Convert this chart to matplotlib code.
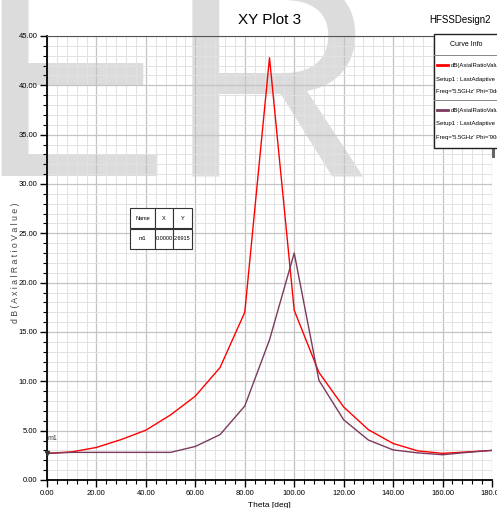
import matplotlib
matplotlib.use('Agg')
import matplotlib.pyplot as plt
from matplotlib.ticker import MultipleLocator, FormatStrFormatter
from matplotlib.patches import Rectangle
from matplotlib.lines import Line2D

# --- data ---
theta = [0, 10, 20, 30, 40, 50, 60, 70, 80, 90, 100, 110, 120, 130, 140, 150, 160, 170, 180]
ar_phi0 = [2.7, 2.85, 3.3, 4.1, 5.05, 6.6, 8.5, 11.4, 17.0, 42.8, 17.2, 10.9, 7.4, 5.1, 3.7, 2.95, 2.7, 2.85, 3.0]
ar_phi90 = [2.7, 2.8, 2.8, 2.8, 2.8, 2.8, 3.4, 4.6, 7.5, 14.2, 23.0, 10.1, 6.1, 4.05, 3.05, 2.75, 2.56, 2.8, 3.0]
marker_x, marker_y = 0.0, 2.6915

plt.rcParams['font.family'] = ['Liberation Sans', 'DejaVu Sans']

W, H = 497, 508
fig = plt.figure(figsize=(W / 100, H / 100), dpi=100)

# faint watermark behind everything
fig.text(-23 / W, 1 - 176 / H, 'ER', fontsize=207, color='#dcdcdc',
         ha='left', va='baseline', zorder=-5)

ax = fig.add_axes([47 / W, 1 - 480 / H, 445 / W, 444 / H])
ax.patch.set_alpha(0)

ax.plot(theta, ar_phi0, color='#ff0000', lw=1.0, zorder=3)
ax.plot(theta, ar_phi90, color='#7a3a5e', lw=1.0, zorder=3)

ax.set_xlim(0, 180)
ax.set_ylim(0, 45)
ax.xaxis.set_major_locator(MultipleLocator(20))
ax.xaxis.set_minor_locator(MultipleLocator(4))
ax.yaxis.set_major_locator(MultipleLocator(5))
ax.yaxis.set_minor_locator(MultipleLocator(1))
ax.xaxis.set_major_formatter(FormatStrFormatter('%.2f'))
ax.yaxis.set_major_formatter(FormatStrFormatter('%.2f'))
ax.grid(which='major', color='#c4c4c4', lw=0.9)
ax.grid(which='minor', color='#e2e2e2', lw=0.7)
ax.set_axisbelow(True)
ax.tick_params(which='both', direction='out', colors='black', labelsize=5.5, pad=2)
ax.tick_params(which='major', length=5, width=1)
ax.tick_params(which='minor', length=3, width=0.8)
ax.spines['right'].set_visible(False)
ax.spines['top'].set_color('#555555')
ax.spines['left'].set_linewidth(1.3)
ax.spines['bottom'].set_linewidth(1.3)

ax.set_xlabel('Theta [deg]', fontsize=6, labelpad=4)
ax.set_ylabel(' '.join('dB(AxialRatioValue)'), fontsize=6.3, color='#444444')
ax.yaxis.set_label_coords(-0.06, 0.49)

# marker m1
ax.plot([marker_x], [marker_y], marker='v', ms=3, color='#333333', clip_on=False, zorder=4)
ax.text(0.3, marker_y + 1.4, 'm1', fontsize=5, color='#333333', zorder=4)

# marker table
tb = ax.table(cellText=[['m1', '%.4f' % marker_x, '%.4f' % marker_y]],
              colLabels=['Name', 'X', 'Y'], cellLoc='center',
              colWidths=[25, 18, 19],
              bbox=[(130 - 47) / 445, (480 - 249) / 444, 62 / 445, 41 / 444], zorder=5)
tb.auto_set_font_size(False)
tb.set_fontsize(4)
for cell in tb.get_celld().values():
    cell.set_edgecolor('#333333')
    cell.set_linewidth(0.8)
    cell.set_facecolor('white')
    cell.PAD = 0.02

# title and design name
fig.text(270 / W, 1 - 20 / H, 'XY Plot 3', fontsize=11, ha='center', va='center')
fig.text(460 / W, 1 - 20 / H, 'HFSSDesign2', fontsize=7, ha='center', va='center')

# curve info box (clipped at figure edge)
lx0 = 434
fig.add_artist(Rectangle((lx0 / W, 1 - 148 / H), 80 / W, 114 / H, transform=fig.transFigure,
                         facecolor='white', edgecolor='#222222', lw=1, zorder=6))
fig.add_artist(Rectangle(((lx0 + 58) / W, 1 - 158 / H), 3 / W, 10 / H, transform=fig.transFigure,
                         facecolor='#666666', edgecolor='none', zorder=5))
fig.text(466 / W, 1 - 45 / H, 'Curve Info', fontsize=5, ha='center', va='center', zorder=7)
for yline in [55, 100]:
    fig.add_artist(Line2D([lx0 / W, 1], [1 - yline / H] * 2, transform=fig.transFigure,
                          color='#888888', lw=0.7, zorder=7))
entries = [('#ff0000', "Freq='5.5GHz' Phi='0deg'", 55), ('#7a3a5e', "Freq='5.5GHz' Phi='90deg'", 100)]
for col, txt, y0 in entries:
    fig.add_artist(Line2D([437 / W, 448 / W], [1 - (y0 + 10) / H] * 2, transform=fig.transFigure,
                          color=col, lw=2, zorder=7))
    fig.text(451 / W, 1 - (y0 + 10) / H, 'dB(AxialRatioValue)', fontsize=4.3, va='center', zorder=7)
    fig.text(436 / W, 1 - (y0 + 24) / H, 'Setup1 : LastAdaptive', fontsize=4.3, va='center', zorder=7)
    fig.text(436 / W, 1 - (y0 + 37) / H, txt, fontsize=4.3, va='center', zorder=7)

fig.savefig('out.png', dpi=100)
